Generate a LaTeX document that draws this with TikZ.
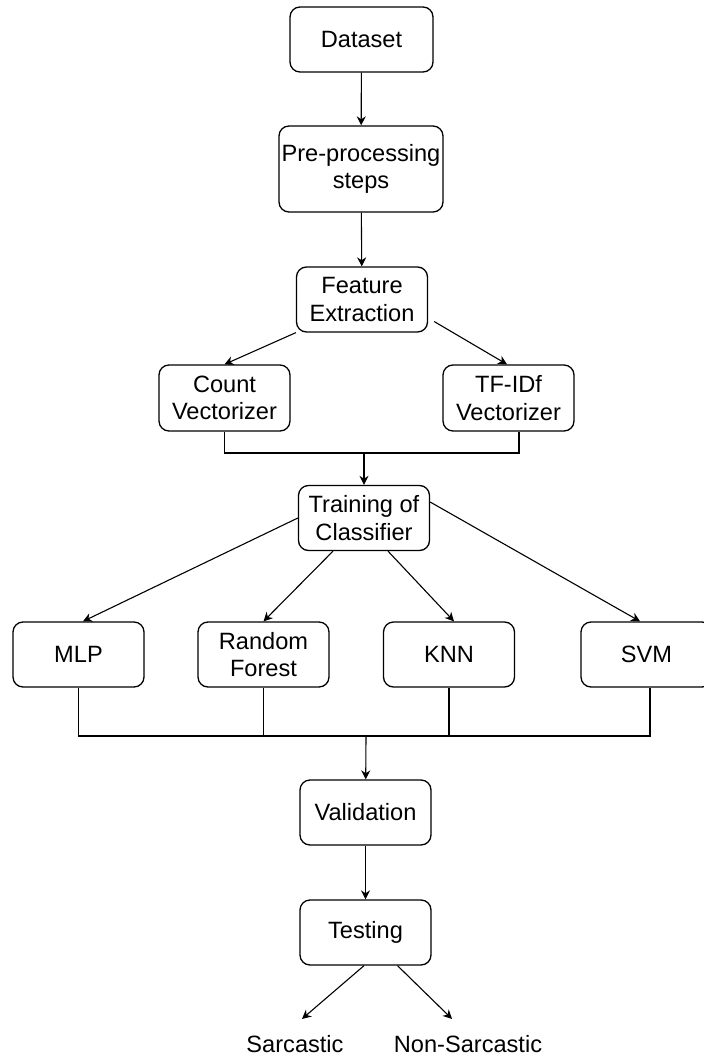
\documentclass[tikz,border=0pt]{standalone}
\usepackage{fontspec}
\setmainfont{Liberation Sans}
\usetikzlibrary{arrows.meta}
\tikzset{
    block/.style={draw, rounded corners=5pt, align=center, inner sep=0pt, line width=0.65pt,
        minimum width=65.5pt, minimum height=32.5pt, font=\fontsize{11.8}{13.8}\selectfont},
    result/.style={inner sep=0pt, font=\fontsize{11.8}{13.8}\selectfont},
    flow/.style={-{Stealth[length=4.5pt,width=4.5pt]}, line width=0.55pt},
    link/.style={line width=0.55pt}
}
\begin{document}
\begin{tikzpicture}[x=0.5pt,y=-0.5pt]
    \useasboundingbox (0,0) rectangle (704,1059);
    \node[block, minimum width=71.5pt] (data) at (361.5,39.5) {Dataset};
    \node[block, minimum width=82pt, minimum height=43pt] (prep) at (361,169) {Pre-processing\\steps};
    \node[block] (feat) at (362,299.5) {Feature\\Extraction};
    \node[block, minimum height=33pt] (count) at (224.5,398) {Count\\Vectorizer};
    \node[block, minimum height=33pt] (tfidf) at (508.5,398) {TF-IDf\\Vectorizer};
    \node[block] (train) at (364,518) {Training of\\Classifier};
    \node[block] (mlp) at (78.5,654.5) {MLP};
    \node[block] (rf) at (263.5,654.5) {Random\\Forest};
    \node[block] (knn) at (449,654.5) {KNN};
    \node[block] (svm) at (646.5,654.5) {SVM};
    \node[block] (val) at (365.5,812.5) {Validation};
    \node[block] (test) at (365.5,932.5) {Testing};
    \node[result] (sarc) at (295,1044) {Sarcastic};
    \node[result] (nonsarc) at (468,1044) {Non-Sarcastic};
    \coordinate (join1) at (364,453);
    \coordinate (join2) at (366,736);
    \draw[flow] (data) -- (prep);
    \draw[flow] (prep) -- (feat);
    \draw[flow] (feat.south west) -- (count.north);
    \draw[flow] ([xshift=3pt,yshift=-11pt]feat.east) -- ([xshift=-0.75pt]tfidf.north);
    \draw[link] (count.south) |- (join1) -| ([xshift=5.25pt]tfidf.south);
    \draw[flow] (join1) -- (train);
    \draw[flow] (train.west) -- ([xshift=2.25pt]mlp.north);
    \draw[flow] ([xshift=-15.5pt]train.south) -- (rf.north);
    \draw[flow] ([xshift=12pt]train.south) -- ([xshift=2.5pt]knn.north);
    \draw[flow] ([yshift=8pt]train.east) -- ([xshift=-3.25pt]svm.north);
    \draw[link] (mlp.south) |- (join2) -| ([xshift=1.75pt]svm.south);
    \draw[link] (rf.south) -- (rf.south |- join2);
    \draw[link] (knn.south) -- (knn.south |- join2);
    \draw[flow] (join2) -- (val);
    \draw[flow] (val) -- (test);
    \draw[flow] ([xshift=-0.75pt]test.south) -- ([xshift=3.5pt,yshift=8pt]sarc.north);
    \draw[flow] ([xshift=16pt]test.south) -- ([xshift=-8pt,yshift=8pt]nonsarc.north);
\end{tikzpicture}
\end{document}
